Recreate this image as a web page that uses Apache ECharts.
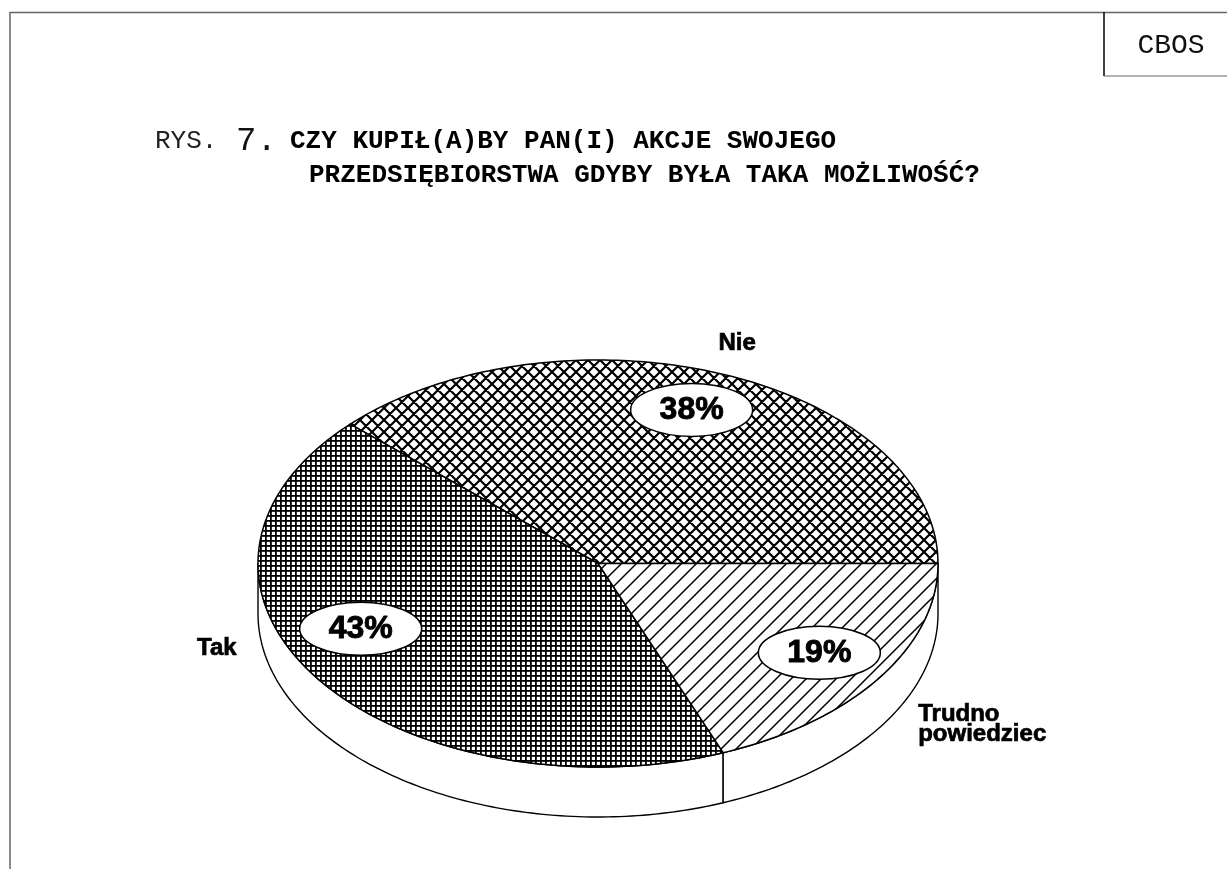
<!DOCTYPE html>
<html>
<head>
<meta charset="utf-8">
<script src="https://cdn.jsdelivr.net/npm/echarts@6/dist/echarts.min.js"></script>
<style>
  html, body { margin: 0; padding: 0; background: #fff; }
  #chart { width: 1227px; height: 869px; }
</style>
</head>
<body>
<div id="chart"></div>
<script>
// ---- data ----
const categories = ['Nie', 'Tak', 'Trudno\npowiedziec'];
const values = [38, 43, 19];
const titleLine1 = 'CZY KUPIŁ(A)BY PAN(I) AKCJE SWOJEGO';
const titleLine2 = 'PRZEDSIĘBIORSTWA GDYBY BYŁA TAKA MOŻLIWOŚĆ?';
const figPrefix = 'RYS.';
const figNumber = '7.';
const brand = 'CBOS';

// ---- styling / layout ----
const PIE = { cx: 598, cy: 563.5, rx: 340, ry: 203.5, h: 50 };
const patternKinds = ['cross', 'grid', 'diag'];
const pctOffsets = [[-4, -6], [-18, -24], [2, 0]];
const nameOffsets = [
  { dx: 14, dy: -31, align: 'center', va: 'middle' },
  { dx: -100, dy: -30, align: 'center', va: 'middle' },
  { dx: 39, dy: 26, align: 'left', va: 'top' }
];
const MONO = '"Courier New", "Liberation Mono", monospace';
const SANS = '"Liberation Sans", Arial, Helvetica, sans-serif';

function makePattern(kind) {
  const c = document.createElement('canvas');
  let s;
  if (kind === 'grid') s = 5; else if (kind === 'cross') s = 12; else s = 15;
  c.width = s; c.height = s;
  const g = c.getContext('2d');
  g.fillStyle = '#fff';
  g.fillRect(0, 0, s, s);
  g.strokeStyle = '#000';
  g.fillStyle = '#000';
  if (kind === 'grid') {
    g.fillRect(0, 0, s, 1.8);
    g.fillRect(0, 0, 1.8, s);
  } else if (kind === 'cross') {
    g.lineWidth = 2.2;
    g.beginPath();
    g.moveTo(0, 0); g.lineTo(s, s);
    g.moveTo(-3, s - 3); g.lineTo(3, s + 3);
    g.moveTo(s - 3, -3); g.lineTo(s + 3, 3);
    g.moveTo(0, s); g.lineTo(s, 0);
    g.moveTo(-3, 3); g.lineTo(3, -3);
    g.moveTo(s - 3, s + 3); g.lineTo(s + 3, s - 3);
    g.stroke();
  } else {
    g.lineWidth = 1.5;
    g.beginPath();
    g.moveTo(0, s); g.lineTo(s, 0);
    g.moveTo(-3, 3); g.lineTo(3, -3);
    g.moveTo(s - 3, s + 3); g.lineTo(s + 3, s - 3);
    g.stroke();
  }
  return { image: c, repeat: 'repeat' };
}
const patterns = patternKinds.map(makePattern);

const total = values.reduce((a, b) => a + b, 0);
const rad = d => d * Math.PI / 180;
function pt(t, dy) {
  return [PIE.cx + PIE.rx * Math.cos(rad(t)), PIE.cy + PIE.ry * Math.sin(rad(t)) + (dy || 0)];
}
function arc(a, b, dy) {
  const pts = [];
  const n = Math.max(2, Math.ceil(Math.abs(b - a)));
  for (let k = 0; k <= n; k++) pts.push(pt(a + (b - a) * k / n, dy));
  return pts;
}

function renderItem(params, api) {
  const i = params.dataIndex;
  const v = api.value(0);
  let before = 0;
  for (let k = 0; k < i; k++) before += values[k];
  const end = 360 - before / total * 360;
  const start = end - v / total * 360;
  const children = [];

  // side (thickness) of the visible front half
  [[0, 180], [360, 540]].forEach(([lo, hi]) => {
    const s = Math.max(start, lo), e = Math.min(end, hi);
    if (e > s) {
      const pts = arc(s, e, 0).concat(arc(e, s, PIE.h));
      children.push({
        type: 'polygon',
        shape: { points: pts },
        style: { fill: '#fff', stroke: '#000', lineWidth: 1.4, lineJoin: 'round' }
      });
    }
  });

  // top face
  const topPts = [[PIE.cx, PIE.cy]].concat(arc(start, end, 0));
  children.push({
    type: 'polygon',
    shape: { points: topPts },
    style: { fill: patterns[i], stroke: '#000', lineWidth: 1.5, lineJoin: 'round' }
  });

  const mid = (start + end) / 2;
  // percent label in white ellipse
  const lx = PIE.cx + 0.78 * PIE.rx * Math.cos(rad(mid)) + pctOffsets[i][0];
  const ly = PIE.cy + 0.78 * PIE.ry * Math.sin(rad(mid)) + pctOffsets[i][1];
  children.push({
    type: 'ellipse',
    shape: { cx: lx, cy: ly, rx: 61, ry: 26.5 },
    style: { fill: '#fff', stroke: '#000', lineWidth: 1.5 }
  });
  children.push({
    type: 'text',
    x: lx, y: ly + 0.5,
    style: {
      text: v + '%', font: 'bold 32px ' + SANS, fill: '#000',
      stroke: '#000', lineWidth: 0.9,
      align: 'center', verticalAlign: 'middle'
    }
  });

  // category name outside
  const rim = pt(mid, 0);
  const no = nameOffsets[i];
  children.push({
    type: 'text',
    x: rim[0] + no.dx, y: rim[1] + no.dy,
    style: {
      text: categories[i], font: 'bold 24px ' + SANS, fill: '#000',
      stroke: '#000', lineWidth: 0.7,
      align: no.align, verticalAlign: no.va, lineHeight: 20
    }
  });

  return { type: 'group', children };
}

const chart = echarts.init(document.getElementById('chart'), null, { renderer: 'canvas' });
chart.setOption({
  animation: false,
  backgroundColor: '#fff',
  graphic: [
    { type: 'line', shape: { x1: 10, y1: 12.5, x2: 1227, y2: 12.5 }, style: { stroke: '#666', lineWidth: 1.5 } },
    { type: 'line', shape: { x1: 10, y1: 12, x2: 10, y2: 869 }, style: { stroke: '#666', lineWidth: 1.5 } },
    { type: 'line', shape: { x1: 1104, y1: 12, x2: 1104, y2: 76 }, style: { stroke: '#000', lineWidth: 1.5 } },
    { type: 'line', shape: { x1: 1104, y1: 76, x2: 1227, y2: 76 }, style: { stroke: '#666', lineWidth: 1.2 } },
    { type: 'text', x: 1171, y: 46, style: { text: brand, font: '28px ' + MONO, fill: '#111', align: 'center', verticalAlign: 'middle' } },
    { type: 'text', x: 155, y: 141, style: { text: figPrefix, font: '26px ' + MONO, fill: '#222', align: 'left', verticalAlign: 'middle' } },
    { type: 'text', x: 236, y: 141, style: { text: figNumber, font: '34px ' + MONO, fill: '#111', align: 'left', verticalAlign: 'middle' } },
    { type: 'text', x: 290, y: 141, style: { text: titleLine1, font: 'bold 26px ' + MONO, fill: '#000', align: 'left', verticalAlign: 'middle' } },
    { type: 'text', x: 309, y: 175, style: { text: titleLine2, font: 'bold 26px ' + MONO, fill: '#000', align: 'left', verticalAlign: 'middle' } }
  ],
  series: [{
    type: 'custom',
    coordinateSystem: 'none',
    data: values.map((v, i) => ({ name: categories[i], value: v })),
    renderItem: renderItem
  }]
});
</script>
</body>
</html>
